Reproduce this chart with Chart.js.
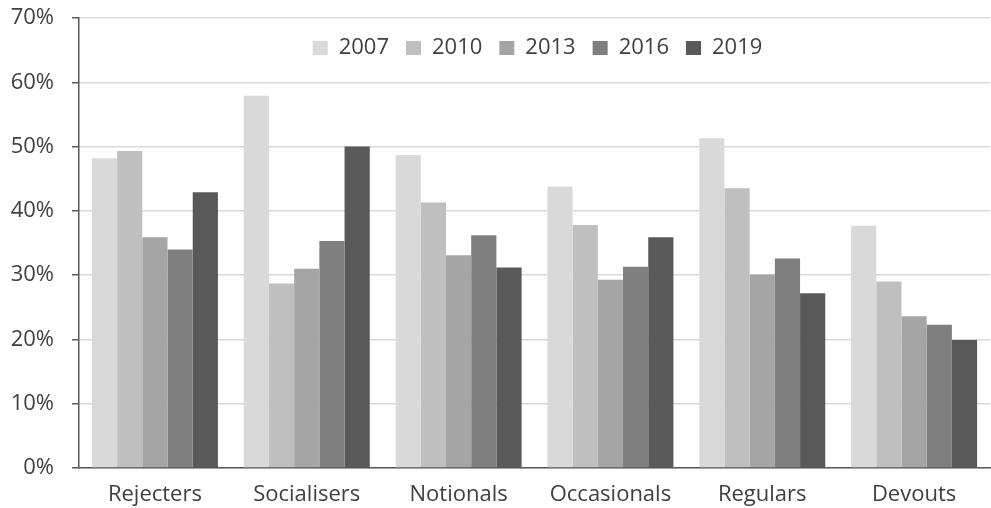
<!DOCTYPE html>
<html>
<head>
<meta charset="utf-8">
<script src="https://cdn.jsdelivr.net/npm/chart.js@4"></script>
<style>
  html, body { margin: 0; padding: 0; background: #fff; }
  #wrap { width: 991px; height: 508px; }
</style>
</head>
<body>
<div id="wrap"><canvas id="myChart"></canvas></div>
<script>
const categories = ['Rejecters', 'Socialisers', 'Notionals', 'Occasionals', 'Regulars', 'Devouts'];
const years = ['2007', '2010', '2013', '2016', '2019'];
const colors = ['#D9D9D9', '#BFBFBF', '#A5A5A5', '#7F7F7F', '#595959'];

const v2007 = [48.2, 57.9, 48.7, 43.8, 51.3, 37.7];
const v2010 = [49.3, 28.7, 41.3, 37.8, 43.5, 29.0];
const v2013 = [35.9, 31.0, 33.1, 29.3, 30.1, 23.6];
const v2016 = [34.0, 35.3, 36.2, 31.3, 32.6, 22.3];
const v2019 = [42.9, 50.0, 31.2, 35.9, 27.2, 19.9];

const yTicks = [0, 10, 20, 30, 40, 50, 60, 70];

const series = [v2007, v2010, v2013, v2016, v2019];
const font = { family: '"Open Sans"', size: 22 };
const textColor = '#404040';

// legend takes no room in the layout, then gets moved inside the plot
const legendInside = {
  id: 'legendInside',
  afterLayout(chart) {
    const l = chart.legend, a = chart.chartArea;
    l.left = a.left + 3;
    l.right = a.right + 3;
    l.width = a.right - a.left;
    l.top = a.top + 2;
    l.height = 80;
    l.bottom = l.top + 80;
  }
};

const data = {
  labels: categories,
  datasets: series.map((vals, i) => ({
    label: years[i],
    data: vals,
    backgroundColor: colors[i],
    borderWidth: 0
  }))
};

const config = {
  type: 'bar',
  data: data,
  options: {
    responsive: true,
    maintainAspectRatio: false,
    animation: false,
    datasets: { bar: { categoryPercentage: 0.83, barPercentage: 1 } },
    layout: { padding: { left: 11, top: 18, right: 1, bottom: 0 } },
    plugins: {
      legend: {
        position: 'top',
        fullSize: false,
        maxHeight: 0.01,
        labels: {
          font: font,
          color: textColor,
          boxWidth: 15,
          boxHeight: 14,
          padding: 17
        }
      },
      tooltip: { enabled: false }
    },
    scales: {
      x: {
        grid: { display: false, drawTicks: false },
        border: { color: '#595959', width: 1.5 },
        ticks: { font: font, color: textColor, padding: 14 },
        afterFit: axis => { axis.height = 40; }
      },
      y: {
        min: 0,
        max: 70,
        afterBuildTicks: axis => { axis.ticks = yTicks.map(v => ({ value: v })); },
        grid: { color: '#D9D9D9', lineWidth: 1.5, tickColor: '#595959', tickLength: 7 },
        border: { color: '#595959', width: 1.5 },
        ticks: { font: font, color: textColor, padding: 18, callback: v => v + '%' },
        afterFit: axis => {
          axis.width = 68;
          axis.paddingTop = 0;
          axis.paddingBottom = 0;
        }
      }
    }
  },
  plugins: [legendInside]
};

const myChart = new Chart(document.getElementById('myChart'), config);
</script>
</body>
</html>
